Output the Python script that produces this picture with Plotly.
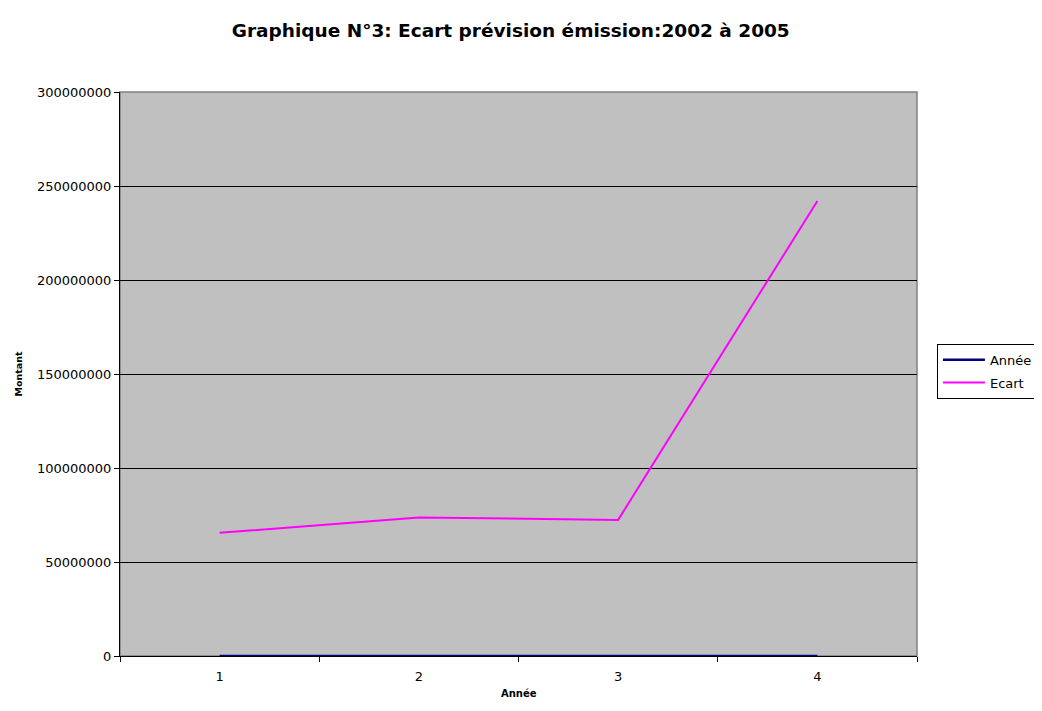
import plotly.graph_objects as go

# données du graphique
categories = [1, 2, 3, 4]
annee = [2002, 2003, 2004, 2005]
ecart = [65500000, 73700000, 72400000, 242000000]
y_ticks = [0, 50000000, 100000000, 150000000, 200000000, 250000000, 300000000]

FONT = "DejaVu Sans, sans-serif"

fig = go.Figure()
fig.add_trace(go.Scatter(
    x=categories, y=annee, mode="lines", name="Année", legendgroup="a",
    line=dict(color="#000080", width=2.5)
))
fig.add_trace(go.Scatter(
    x=categories, y=ecart, mode="lines", name="Ecart", legendgroup="e",
    line=dict(color="#FF00FF", width=2)
))

# bordure grise du cadre (haut et droite)
fig.add_shape(type="rect", xref="paper", yref="paper", x0=0, y0=0, x1=1, y1=1,
              line=dict(color="#808080", width=1.5), layer="below")

# titre de l'axe X (en annotation, pour le placer plus bas)
fig.add_annotation(text="<b>Année</b>", xref="paper", yref="paper",
                   x=0.5, y=-0.0805, xanchor="center", yanchor="bottom",
                   showarrow=False, font=dict(size=10))

fig.update_layout(
    width=1026, height=695,
    margin=dict(l=112, r=117, t=84, b=47, autoexpand=False),
    paper_bgcolor="white",
    plot_bgcolor="#C0C0C0",
    font=dict(family=FONT, size=13, color="black"),
    title=dict(text="<b>Graphique N°3: Ecart prévision émission:2002 à 2005</b>",
               x=0.490, xanchor="center", y=0.968, yanchor="middle",
               font=dict(size=18.5)),
    showlegend=True,
    legend=dict(x=1.025, xanchor="left", y=0.505, yanchor="middle",
                bordercolor="black", borderwidth=1, bgcolor="white",
                font=dict(size=13), tracegroupgap=3, itemwidth=42),
    xaxis=dict(
        range=[0.5, 4.5], tickvals=categories, ticktext=[str(c) for c in categories],
        ticks="outside", ticklen=8, tickcolor="rgba(0,0,0,0)",
        showgrid=False, zeroline=False, automargin=False,
        showline=True, linecolor="black", linewidth=1,
        minor=dict(ticks="outside", tick0=0.5, dtick=1, ticklen=5, tickcolor="black", showgrid=False),
    ),
    yaxis=dict(
        range=[0, 300000000], tickvals=y_ticks, ticktext=[str(v) for v in y_ticks],
        ticks="outside", ticklen=5, tickcolor="black",
        showgrid=True, gridcolor="black", gridwidth=1, zeroline=False, automargin=False,
        showline=True, linecolor="black", linewidth=1,
        title=dict(text="<b>Montant</b>", font=dict(size=9.5), standoff=12),
    ),
)

fig.write_html("out.html")
